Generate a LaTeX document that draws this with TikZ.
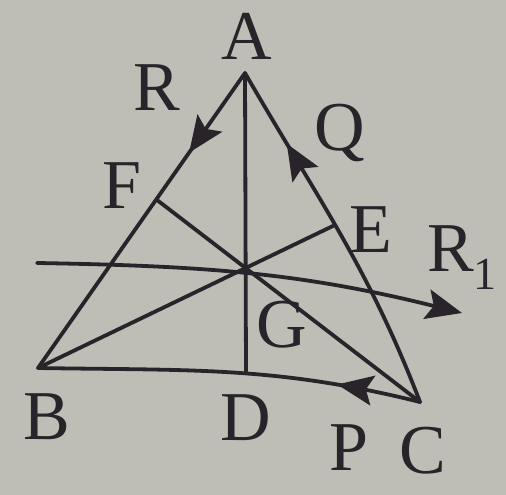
\documentclass[tikz,border=0pt]{standalone}
\usepackage{fontspec}
\setmainfont{Liberation Serif}
\usetikzlibrary{arrows.meta,decorations.markings}
\definecolor{paper}{RGB}{190,190,182}
\definecolor{ink}{RGB}{40,36,42}
\tikzset{
  ln/.style={draw=ink,line width=3.8pt,line cap=round,line join=round},
  lbl/.style={text=ink,inner sep=0pt,font=\fontsize{70}{70}\selectfont},
  arrowat/.style={postaction={decorate},decoration={markings,
    mark=at position #1 with {\arrow[ink]{Stealth[length=36pt,width=30pt,inset=7pt]}}}}
}
\begin{document}
\begin{tikzpicture}[x=1pt,y=1pt]
\fill[paper] (0,0) rectangle (506,495);
\useasboundingbox (0,0) rectangle (506,495);
% vertices and points
\coordinate (A) at (245,422);
\coordinate (B) at (38,127);
\coordinate (C) at (420,93);
\coordinate (D) at (246,122);
\coordinate (F) at (157,295);
\coordinate (E) at (335,270);
\coordinate (G) at (246,228);
\coordinate (L1) at (37,232);
\coordinate (L2) at (462,182);
% sides
\draw[ln,arrowat=0.27] (A) -- (B);
\draw[ln,arrowat=0.78] (C) to[out=111,in=-60] (A);
\draw[ln,arrowat=0.22] (C) to[out=166,in=-1] (B);
% medians
\draw[ln] (A) -- (D);
\draw[ln] (B) -- (E);
\draw[ln] (C) -- (F);
% line R1
\draw[ln,-{Stealth[length=36pt,width=30pt,inset=7pt]}] (L1) to[out=-1,in=166] (L2);
% labels
\node[lbl] (lA) at (247,459) {A};
\node[lbl] (lR) at (157,407) {R};
\node[lbl] (lQ) at (340,362) {Q};
\node[lbl] (lF) at (122,309) {F};
\node[lbl] (lE) at (371,265) {E};
\node[lbl] (lG) at (282,170) {G};
\node[lbl] (lB) at (47,78) {B};
\node[lbl] (lD) at (246,77) {D};
\node[lbl] (lP) at (349,47) {P};
\node[lbl] (lC) at (423,44) {C};
\node[lbl,anchor=base west] (lR1) at (427,223) {R\raisebox{-18pt}{\fontsize{46}{46}\selectfont 1}};
\end{tikzpicture}
\end{document}
